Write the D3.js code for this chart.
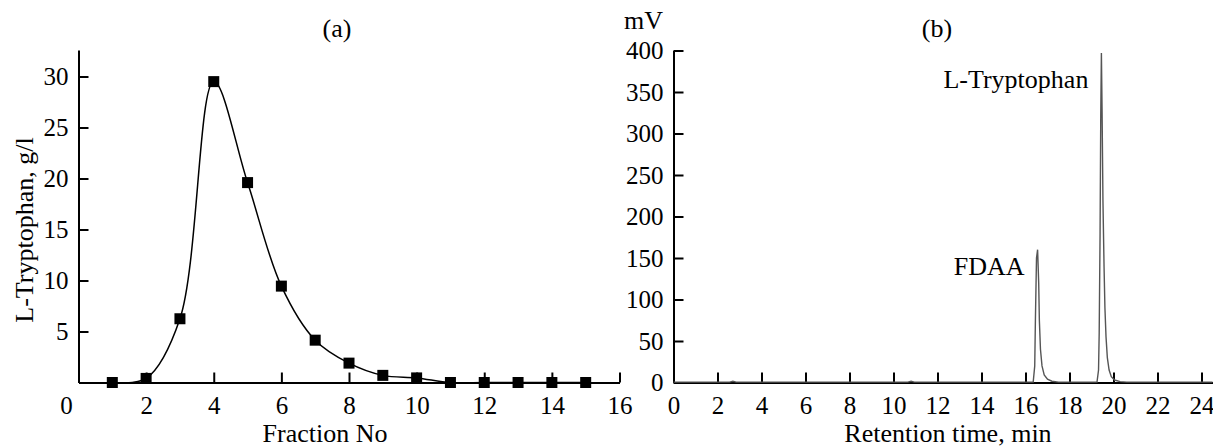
<!DOCTYPE html>
<html>
<head>
<meta charset="utf-8">
<script src="https://cdn.jsdelivr.net/npm/d3@7"></script>
<style>
  body { margin: 0; background: #fff; }
  svg text { font-family: "Liberation Serif", "Times New Roman", serif; fill: #000; }
  .axis path, .axis line { stroke: #000; stroke-width: 2; }
</style>
</head>
<body>
<svg id="chart" width="1213" height="448"></svg>
<script>
// panel (a): fraction elution profile
var fractionNo = [1, 2, 3, 4, 5, 6, 7, 8, 9, 10, 11, 12, 13, 14, 15];
var tryptophanGL = [0, 0.4, 6.25, 29.5, 19.6, 9.45, 4.15, 1.9, 0.7, 0.45, 0, 0, 0, 0, 0];
var fractionTicks = [2, 4, 6, 8, 10, 12, 14, 16];
var concTicks = [5, 10, 15, 20, 25, 30];

// panel (b): HPLC chromatogram
var retentionMin = [0, 2.55, 2.7, 2.85, 10.65, 10.8, 10.95, 16.35, 16.42, 16.45, 16.5, 16.55, 16.6, 16.63, 16.68,
  16.75, 16.85, 17.0, 17.2, 17.5, 19.25, 19.32, 19.35, 19.39, 19.42, 19.45, 19.48, 19.52, 19.57, 19.61,
  19.66, 19.72, 19.8, 19.9, 20.05, 20.3, 20.6, 21.0, 24.5];
var signalMV = [0.5, 0.5, 1.5, 0.5, 0.5, 1.5, 0.5, 0.5, 20, 75, 150, 160, 120, 75, 40,
  20, 9, 4, 1.5, 0.5, 0.5, 15, 60, 180, 320, 397, 330, 220, 140, 90,
  55, 30, 15, 7, 3, 1, 0.5, 0.5, 0.5];
var timeTicks = [0, 2, 4, 6, 8, 10, 12, 14, 16, 18, 20, 22, 24];
var mvTicks = [0, 50, 100, 150, 200, 250, 300, 350, 400];

var fontSize = 26;
var tickFont = 25;
var svg = d3.select("#chart");

// ---------- panel (a) ----------
var xL = d3.scaleLinear().domain([0, 16]).range([78.5, 619.5]);
var yL = d3.scaleLinear().domain([0, 32.6]).range([382.5, 50]);

svg.append("g")
  .attr("class", "axis")
  .attr("transform", "translate(0," + yL(0) + ")")
  .call(d3.axisBottom(xL).tickValues(fractionTicks).tickSize(-10).tickSizeOuter(0).tickPadding(14));

svg.append("g")
  .attr("class", "axis")
  .attr("transform", "translate(" + xL(0) + ",0)")
  .call(d3.axisLeft(yL).tickValues(concTicks).tickSize(-10).tickSizeOuter(0).tickPadding(10));

// origin label sits left of the axis corner
svg.append("text")
  .attr("x", xL(0) - 12)
  .attr("y", yL(0) + 14)
  .attr("dy", "0.71em")
  .attr("text-anchor", "middle")
  .style("font-size", tickFont + "px")
  .text("0");

var line = d3.line()
  .x(function (d, i) { return xL(fractionNo[i]); })
  .y(function (d) { return yL(d); })
  .curve(d3.curveCatmullRom.alpha(0.5));

svg.append("path")
  .datum(tryptophanGL)
  .attr("d", line)
  .attr("fill", "none")
  .attr("stroke", "#000")
  .attr("stroke-width", 1.5);

var size = 11;
svg.append("g").selectAll("rect")
  .data(tryptophanGL)
  .enter()
  .append("rect")
  .attr("x", function (d, i) { return xL(fractionNo[i]) - size / 2; })
  .attr("y", function (d) { return yL(d) - size / 2; })
  .attr("width", size)
  .attr("height", size)
  .attr("fill", "#000");

svg.append("text")
  .attr("x", 337)
  .attr("y", 37)
  .attr("text-anchor", "middle")
  .style("font-size", fontSize + "px")
  .text("(a)");

svg.append("text")
  .attr("x", 325)
  .attr("y", 442)
  .attr("text-anchor", "middle")
  .style("font-size", fontSize + "px")
  .text("Fraction No");

svg.append("g")
  .attr("transform", "translate(33,230)")
  .append("text")
  .attr("transform", "rotate(-90)")
  .attr("text-anchor", "middle")
  .style("font-size", fontSize + "px")
  .text("L-Tryptophan, g/l");

// ---------- panel (b) ----------
var xR = d3.scaleLinear().domain([0, 24.5]).range([673.5, 1212.5]);
var yR = d3.scaleLinear().domain([0, 400]).range([382.5, 50.5]);

svg.append("g")
  .attr("class", "axis")
  .attr("transform", "translate(0," + yR(0) + ")")
  .call(d3.axisBottom(xR).tickValues(timeTicks).tickSize(-10).tickSizeOuter(0).tickPadding(14));

svg.append("g")
  .attr("class", "axis")
  .attr("transform", "translate(" + xR(0) + ",0)")
  .call(d3.axisLeft(yR).tickValues(mvTicks).tickSize(-10).tickSizeOuter(0).tickPadding(10));

var chromLine = d3.line()
  .x(function (d, i) { return xR(retentionMin[i]); })
  .y(function (d) { return yR(d); });

svg.append("path")
  .datum(signalMV)
  .attr("d", chromLine)
  .attr("fill", "none")
  .attr("stroke", "#555")
  .attr("stroke-width", 1.4);

svg.append("text")
  .attr("x", xR(19.45) - 13)
  .attr("y", yR(355))
  .attr("text-anchor", "end")
  .style("font-size", fontSize + "px")
  .text("L-Tryptophan");

svg.append("text")
  .attr("x", xR(16.55) - 13)
  .attr("y", yR(130))
  .attr("text-anchor", "end")
  .style("font-size", fontSize + "px")
  .text("FDAA");

svg.append("text")
  .attr("x", 937)
  .attr("y", 37)
  .attr("text-anchor", "middle")
  .style("font-size", fontSize + "px")
  .text("(b)");

svg.append("text")
  .attr("x", 663)
  .attr("y", 29)
  .attr("text-anchor", "end")
  .style("font-size", fontSize + "px")
  .text("mV");

svg.append("text")
  .attr("x", 948)
  .attr("y", 442)
  .attr("text-anchor", "middle")
  .style("font-size", fontSize + "px")
  .text("Retention time, min");

svg.selectAll(".axis text")
  .style("font-size", tickFont + "px")
  .style("font-family", "'Liberation Serif', serif");
</script>
</body>
</html>
